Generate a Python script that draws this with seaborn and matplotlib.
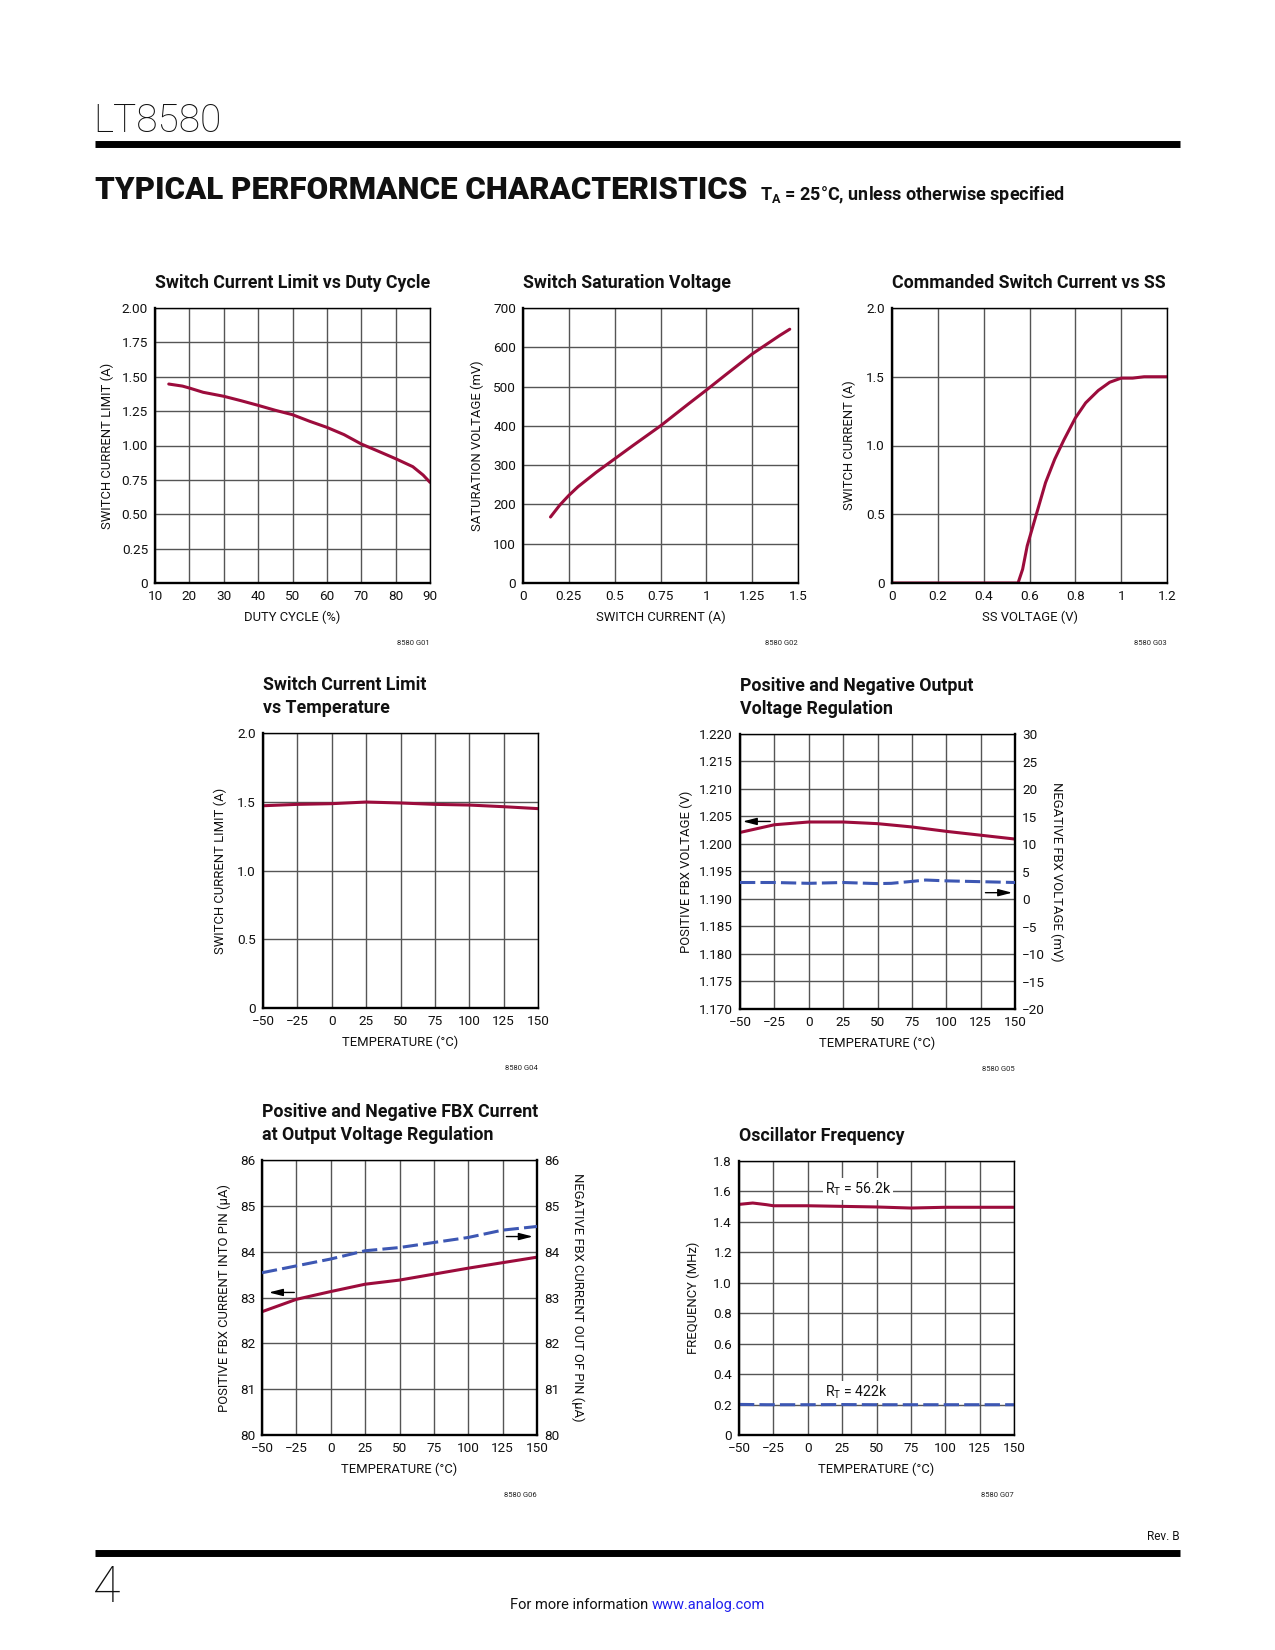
import matplotlib
matplotlib.use("Agg")
import matplotlib.pyplot as plt
import seaborn as sns

# ---------------- data ----------------
duty_cycle = [14, 18, 20, 24, 30, 35, 40, 45, 50, 55, 60, 65, 70, 75, 80, 85, 88, 90]
ilim_vs_duty = [1.447, 1.432, 1.418, 1.387, 1.358, 1.326, 1.292, 1.256, 1.224, 1.176,
                1.132, 1.079, 1.011, 0.958, 0.904, 0.846, 0.785, 0.732]

sw_current = [0.15, 0.2, 0.25, 0.3, 0.4, 0.5, 0.6, 0.75, 0.9, 1.0, 1.1, 1.25, 1.4, 1.455]
sat_voltage = [168, 198, 223, 245, 282, 316, 350, 400, 455, 491, 528, 583, 630, 646]

ss_voltage = [0, 0.55, 0.57, 0.59, 0.63, 0.67, 0.71, 0.75, 0.80, 0.845, 0.90, 0.95, 1.0, 1.05, 1.1, 1.2]
ss_current = [0, 0, 0.10, 0.27, 0.50, 0.73, 0.90, 1.04, 1.20, 1.31, 1.40, 1.46, 1.49, 1.49, 1.50, 1.50]

temp = [-50, -25, 0, 25, 50, 75, 100, 125, 150]
ilim_vs_temp = [1.471, 1.481, 1.486, 1.498, 1.491, 1.481, 1.476, 1.464, 1.450]

vfb_pos = [1.2021, 1.2035, 1.2040, 1.2040, 1.2037, 1.2031, 1.2023, 1.2016, 1.2009]
temp_neg = [-50, -25, 0, 25, 50, 60, 75, 85, 100, 125, 150]
vfb_neg_mv = [3.0, 3.0, 2.85, 3.0, 2.8, 2.85, 3.2, 3.45, 3.3, 3.15, 3.0]

ifb_pos = [82.69, 82.96, 83.13, 83.29, 83.38, 83.51, 83.64, 83.76, 83.88]
ifb_neg = [83.54, 83.69, 83.84, 84.02, 84.09, 84.20, 84.31, 84.47, 84.55]

temp_osc = [-50, -40, -30, -25, 0, 25, 50, 75, 100, 125, 150]
freq_56k = [1.515, 1.524, 1.513, 1.506, 1.506, 1.502, 1.498, 1.491, 1.496, 1.496, 1.496]
freq_422k = [0.201, 0.200, 0.199, 0.199, 0.199, 0.200, 0.199, 0.199, 0.199, 0.199, 0.199]

duty_ticks = [10, 20, 30, 40, 50, 60, 70, 80, 90]
ilim_ticks = [0, 0.25, 0.5, 0.75, 1.0, 1.25, 1.5, 1.75, 2.0]
ilim_ticklabels = ["0", "0.25", "0.50", "0.75", "1.00", "1.25", "1.50", "1.75", "2.00"]
cur_ticks = [0, 0.25, 0.5, 0.75, 1.0, 1.25, 1.5]
cur_ticklabels = ["0", "0.25", "0.5", "0.75", "1", "1.25", "1.5"]
mv_ticks = [0, 100, 200, 300, 400, 500, 600, 700]
ss_ticks = [0, 0.2, 0.4, 0.6, 0.8, 1.0, 1.2]
ss_ticklabels = ["0", "0.2", "0.4", "0.6", "0.8", "1", "1.2"]
amp_ticks = [0, 0.5, 1.0, 1.5, 2.0]
amp_ticklabels = ["0", "0.5", "1.0", "1.5", "2.0"]
temp_ticks = [-50, -25, 0, 25, 50, 75, 100, 125, 150]
temp_ticklabels = ["\u221250", "\u221225", "0", "25", "50", "75", "100", "125", "150"]
vfb_ticks = [1.170, 1.175, 1.180, 1.185, 1.190, 1.195, 1.200, 1.205, 1.210, 1.215, 1.220]
vfb_ticklabels = ["%.3f" % v for v in vfb_ticks]
neg_ticks = [-20, -15, -10, -5, 0, 5, 10, 15, 20, 25, 30]
neg_ticklabels = ["\u221220", "\u221215", "\u221210", "\u22125", "0", "5", "10", "15", "20", "25", "30"]
ua_ticks = [80, 81, 82, 83, 84, 85, 86]
freq_ticks = [0, 0.2, 0.4, 0.6, 0.8, 1.0, 1.2, 1.4, 1.6, 1.8]
freq_ticklabels = ["0", "0.2", "0.4", "0.6", "0.8", "1.0", "1.2", "1.4", "1.6", "1.8"]

# ---------------- style ----------------
sns.set_theme(style="white")
FONT = ["Roboto", "DejaVu Sans"]
plt.rcParams["font.family"] = FONT
plt.rcParams["mathtext.fontset"] = "custom"
plt.rcParams["mathtext.rm"] = "Roboto"
plt.rcParams["mathtext.bf"] = "Roboto:bold"
plt.rcParams["axes.unicode_minus"] = True

RED = "#9c0c3c"
BLUE = "#3d57b3"
GRID = "#555555"
INK = "#111111"

W, H = 1275, 1650
fig = plt.figure(figsize=(W / 100, H / 100), dpi=100)
fig.patch.set_facecolor("white")


def fy(y):
    return 1 - y / H


def add_ax(l, t, r, b):
    return fig.add_axes([l / W, 1 - b / H, (r - l) / W, (b - t) / H])


TICK_FS = 9.7
LAB_FS = 9.4
TITLE_FS = 12.8


def style(ax, l, t, r, b, xlim, ylim, xt, xtl, yt, ytl, xlabel, ylabel,
          title, code, ylab_off, right_thick=False):
    w = r - l
    h = b - t
    ax.set_xlim(*xlim)
    ax.set_ylim(*ylim)
    ax.set_xticks(xt)
    ax.set_xticklabels(xtl)
    ax.set_yticks(yt)
    ax.set_yticklabels(ytl)
    ax.tick_params(axis="both", length=0, labelsize=TICK_FS, colors=INK)
    ax.tick_params(axis="x", pad=5)
    ax.tick_params(axis="y", pad=5)
    ax.grid(True, color=GRID, lw=1.0)
    ax.set_axisbelow(True)
    for s in ["left", "bottom"]:
        ax.spines[s].set_linewidth(1.7)
        ax.spines[s].set_color("black")
    for s in ["top", "right"]:
        ax.spines[s].set_linewidth(1.0)
        ax.spines[s].set_color("black")
    if right_thick:
        ax.spines["right"].set_linewidth(1.7)
    ax.set_xlabel(xlabel, fontsize=LAB_FS, va="center", color=INK)
    ax.xaxis.set_label_coords(0.5, -34 / h)
    ax.set_ylabel(ylabel, fontsize=LAB_FS, va="center", color=INK)
    ax.yaxis.set_label_coords(-ylab_off / w, 0.5)
    for i, line in enumerate(title):
        ty = t - 25 - 23 * (len(title) - 1 - i)
        fig.text(l / W, fy(ty), line, ha="left", va="center", fontsize=TITLE_FS,
                 weight="bold", color=INK)
    fig.text(r / W, fy(b + 60), code, ha="right", va="center", fontsize=5.5,
             color="#222222")


def arrow(ax, x0, x1, y):
    ax.annotate("", xy=(x1, y), xytext=(x0, y),
                arrowprops=dict(arrowstyle="-|>,head_length=0.7,head_width=0.18",
                                color="black", lw=1.0, shrinkA=0, shrinkB=0))


LW = 2.2
DASH = (0, (5, 1.7))

# ---- Chart 1 ----
l, t, r, b = 155, 308, 430, 583
ax = add_ax(l, t, r, b)
sns.lineplot(x=duty_cycle, y=ilim_vs_duty, ax=ax, color=RED, lw=LW)
style(ax, l, t, r, b, (10, 90), (0, 2), duty_ticks, [str(v) for v in duty_ticks],
      ilim_ticks, ilim_ticklabels, "DUTY CYCLE (%)", "SWITCH CURRENT LIMIT (A)",
      ["Switch Current Limit vs Duty Cycle"], "8580 G01", 48)

# ---- Chart 2 ----
l, t, r, b = 523, 308, 798, 583
ax = add_ax(l, t, r, b)
sns.lineplot(x=sw_current, y=sat_voltage, ax=ax, color=RED, lw=LW)
style(ax, l, t, r, b, (0, 1.5), (0, 700), cur_ticks, cur_ticklabels,
      mv_ticks, [str(v) for v in mv_ticks], "SWITCH CURRENT (A)",
      "SATURATION VOLTAGE (mV)", ["Switch Saturation Voltage"], "8580 G02", 46)

# ---- Chart 3 ----
l, t, r, b = 892, 308, 1167, 583
ax = add_ax(l, t, r, b)
sns.lineplot(x=ss_voltage, y=ss_current, ax=ax, color=RED, lw=LW)
style(ax, l, t, r, b, (0, 1.2), (0, 2), ss_ticks, ss_ticklabels,
      amp_ticks, amp_ticklabels, "SS VOLTAGE (V)", "SWITCH CURRENT (A)",
      ["Commanded Switch Current vs SS"], "8580 G03", 43)

# ---- Chart 4 ----
l, t, r, b = 263, 733, 538, 1008
ax = add_ax(l, t, r, b)
sns.lineplot(x=temp, y=ilim_vs_temp, ax=ax, color=RED, lw=LW)
style(ax, l, t, r, b, (-50, 150), (0, 2), temp_ticks, temp_ticklabels,
      amp_ticks, amp_ticklabels, "TEMPERATURE (\u00b0C)", "SWITCH CURRENT LIMIT (A)",
      ["Switch Current Limit", "vs Temperature"], "8580 G04", 43)

# ---- Chart 5 ----
l, t, r, b = 740, 734, 1015, 1009
ax = add_ax(l, t, r, b)
sns.lineplot(x=temp, y=vfb_pos, ax=ax, color=RED, lw=LW)
style(ax, l, t, r, b, (-50, 150), (1.170, 1.220), temp_ticks, temp_ticklabels,
      vfb_ticks, vfb_ticklabels, "TEMPERATURE (\u00b0C)", "POSITIVE FBX VOLTAGE (V)",
      ["Positive and Negative Output", "Voltage Regulation"], "8580 G05", 54,
      right_thick=True)
ax2 = ax.twinx()
sns.lineplot(x=temp_neg, y=vfb_neg_mv, ax=ax2, color=BLUE, lw=LW, linestyle=DASH)
ax2.set_ylim(-20, 30)
ax2.set_yticks(neg_ticks)
ax2.set_yticklabels(neg_ticklabels)
ax2.tick_params(axis="y", length=0, labelsize=TICK_FS, pad=5, colors=INK)
for s in ax2.spines.values():
    s.set_visible(False)
ax2.set_ylabel("NEGATIVE FBX VOLTAGE (mV)", fontsize=LAB_FS, rotation=270, va="center",
               color=INK)
ax2.yaxis.set_label_coords(1 + 42 / 275, 0.5)
arrow(ax, -28, -48, 1.2041)
arrow(ax2, 128.5, 148, 1.15)

# ---- Chart 6 ----
l, t, r, b = 262, 1160, 537, 1435
ax = add_ax(l, t, r, b)
sns.lineplot(x=temp, y=ifb_pos, ax=ax, color=RED, lw=LW)
style(ax, l, t, r, b, (-50, 150), (80, 86), temp_ticks, temp_ticklabels,
      ua_ticks, [str(v) for v in ua_ticks], "TEMPERATURE (\u00b0C)",
      "POSITIVE FBX CURRENT INTO PIN (\u03bcA)",
      ["Positive and Negative FBX Current", "at Output Voltage Regulation"],
      "8580 G06", 38, right_thick=True)
ax2 = ax.twinx()
sns.lineplot(x=temp, y=ifb_neg, ax=ax2, color=BLUE, lw=LW, linestyle=DASH)
ax2.set_ylim(80, 86)
ax2.set_yticks(ua_ticks)
ax2.set_yticklabels([str(v) for v in ua_ticks])
ax2.tick_params(axis="y", length=0, labelsize=TICK_FS, pad=5, colors=INK)
for s in ax2.spines.values():
    s.set_visible(False)
ax2.set_ylabel("NEGATIVE FBX CURRENT OUT OF PIN (\u03bcA)", fontsize=LAB_FS, rotation=270,
               va="center", color=INK)
ax2.yaxis.set_label_coords(1 + 41 / 275, 0.5)
arrow(ax, -26.5, -45, 83.11)
arrow(ax2, 127.7, 147, 84.33)

# ---- Chart 7 ----
l, t, r, b = 739, 1161, 1014, 1435
ax = add_ax(l, t, r, b)
sns.lineplot(x=temp_osc, y=freq_56k, ax=ax, color=RED, lw=LW)
sns.lineplot(x=temp_osc, y=freq_422k, ax=ax, color=BLUE, lw=LW, linestyle=DASH)
style(ax, l, t, r, b, (-50, 150), (0, 1.8), temp_ticks, temp_ticklabels,
      freq_ticks, freq_ticklabels, "TEMPERATURE (\u00b0C)", "FREQUENCY (MHz)",
      ["Oscillator Frequency"], "8580 G07", 46)
box = dict(facecolor="white", edgecolor="none", pad=1.5)
ax.text(36.5, 1.616, r"R$_\mathrm{T}$ = 56.2k", ha="center", va="center",
        fontsize=TICK_FS + 0.5, bbox=box, color=INK)
ax.text(35.3, 0.283, r"R$_\mathrm{T}$ = 422k", ha="center", va="center",
        fontsize=TICK_FS + 0.5, bbox=box, color=INK)

# ---------------- page furniture ----------------
fig.text(93 / W, fy(121), "LT8580", ha="left", va="center", fontsize=28,
         weight="light", color=INK)
fig.add_artist(plt.Line2D([95 / W, 1180 / W], [fy(144), fy(144)], color="black",
                          lw=5, solid_capstyle="butt"))
fig.text(95 / W, fy(190), "TYPICAL PERFORMANCE CHARACTERISTICS", ha="left",
         va="center", fontsize=22.5, weight="heavy", color=INK)
fig.text(760 / W, fy(195), "T$_\\mathbf{A}$ = 25\u00b0C, unless otherwise specified",
         ha="left", va="center", fontsize=13, weight="bold", color=INK)

fig.text(1180 / W, fy(1537), "Rev. B", ha="right", va="center", fontsize=8.5,
         color=INK)
fig.add_artist(plt.Line2D([95 / W, 1180 / W], [fy(1553), fy(1553)], color="black",
                          lw=5, solid_capstyle="butt"))
fig.text(93 / W, fy(1588), "4", ha="left", va="center", fontsize=36,
         weight="light", color=INK)
fig.text(652 / W, fy(1605), "For more information ", ha="right", va="center",
         fontsize=10.5, color=INK)
fig.text(652 / W, fy(1605), "www.analog.com", ha="left", va="center",
         fontsize=10.5, color="#2020ee")

fig.savefig("out.png", dpi=100, facecolor="white")
